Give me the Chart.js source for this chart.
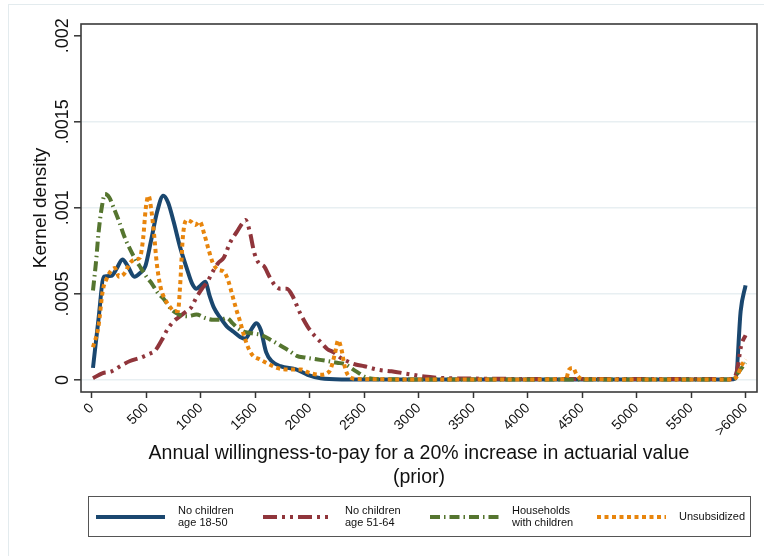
<!DOCTYPE html>
<html>
<head>
<meta charset="utf-8">
<script src="https://cdn.jsdelivr.net/npm/chart.js@4.4.1/dist/chart.umd.min.js"></script>
<style>
  html, body { margin: 0; padding: 0; background: #fff; }
  #wrap { position: relative; width: 764px; height: 559px; }
  #wrap canvas { position: absolute; left: 0; top: 0; }
  #frame { position: absolute; left: 8px; top: 4px; right: 0; bottom: 3px;
           border-top: 1px solid #e3ebee; border-left: 1px solid #e3ebee; pointer-events: none; }
</style>
</head>
<body>
<div id="wrap">
  <canvas id="wtpChart" width="764" height="559"></canvas>
  <div id="frame"></div>
</div>
<script>
// ---------------- Daten ----------------
const xTickValues = [0, 500, 1000, 1500, 2000, 2500, 3000, 3500, 4000, 4500, 5000, 5500, 6000];
const xTickLabels = ["0", "500", "1000", "1500", "2000", "2500", "3000", "3500", "4000", "4500", "5000", "5500", ">6000"];
const yTickValues = [0, 0.0005, 0.001, 0.0015, 0.002];
const yTickLabels = ["0", ".0005", ".001", ".0015", ".002"];

const seriesNames = ["No children age 18-50", "No children age 51-64", "Households with children", "Unsubsidized"];
const legendLabels = [["No children", "age 18-50"], ["No children", "age 51-64"], ["Households", "with children"], ["Unsubsidized"]];

// No children, age 18-50
const young = {
  x: [10, 60, 110, 180, 230, 280, 330, 390, 440, 490, 540, 600, 655, 700, 750, 810, 870, 920, 960, 1000,
      1040, 1080, 1120, 1180, 1240, 1300, 1360, 1410, 1460, 1510, 1550, 1600, 1650, 1730, 1880, 1980, 2100,
      2300, 3000, 4000, 5000, 5850, 5910, 5955, 6000],
  y: [0.00007, 0.00035, 0.0006, 0.000605, 0.00065, 0.0007, 0.00066, 0.0006, 0.00062, 0.00066, 0.0008, 0.00098,
      0.00107, 0.00103, 0.00092, 0.00077, 0.00065, 0.00056, 0.00053, 0.00055, 0.00057, 0.00049, 0.00042,
      0.00036, 0.00031, 0.00028, 0.00025, 0.00024, 0.00029, 0.00033, 0.00029, 0.00016, 0.00011, 0.00008,
      0.00006, 0.00003, 0.00001, 0.000003, 0.000002, 0.000002, 0.000002, 0.000002, 0.00001, 0.0004, 0.00055]
};

// No children, age 51-64
const older = {
  x: [10, 100, 180, 260, 350, 450, 520, 580, 640, 690, 750, 810, 870, 910, 960, 1010, 1060, 1110, 1160, 1210,
      1270, 1330, 1380, 1410, 1450, 1490, 1530, 1580, 1630, 1680, 1730, 1790, 1840, 1910, 1980, 2040, 2100,
      2160, 2220, 2280, 2340, 2420, 2500, 2620, 2750, 2900, 3050, 3200, 3500, 4000, 5000, 5880, 5920, 5960, 6000],
  y: [0.00001, 0.00004, 0.00005, 0.00008, 0.00011, 0.00013, 0.00015, 0.00017, 0.00023, 0.00029, 0.00034,
      0.00037, 0.0004, 0.00042, 0.00048, 0.00053, 0.00057, 0.00063, 0.00068, 0.00071, 0.0008, 0.00086,
      0.00091, 0.00093, 0.00086, 0.00074, 0.00068, 0.00066, 0.0006, 0.00055, 0.00053, 0.00053, 0.00049,
      0.00039, 0.00031, 0.00026, 0.00022, 0.00018, 0.00016, 0.00013, 0.00011, 0.00009, 0.00008, 0.00006,
      0.00005, 0.000035, 0.00002, 0.000012, 0.000008, 0.000006, 0.000006, 0.000006, 0.00005, 0.0002, 0.00026]
};

// Households with children
const families = {
  x: [10, 40, 60, 90, 120, 160, 200, 250, 300, 350, 400, 450, 500, 550, 600, 660, 730, 800, 880, 960, 1040,
      1110, 1180, 1240, 1290, 1340, 1400, 1480, 1560, 1650, 1730, 1810, 1880, 1960, 2060, 2160, 2250, 2330,
      2400, 2450, 2500, 2600, 3000, 4000, 5000, 5880, 5930, 6000],
  y: [0.00052, 0.0007, 0.00085, 0.001, 0.00108, 0.00106, 0.001, 0.00092, 0.00083, 0.00076, 0.0007, 0.00065,
      0.0006, 0.00056, 0.00051, 0.00047, 0.00041, 0.00038, 0.00037, 0.00038, 0.00036, 0.00035, 0.00035,
      0.00036, 0.00033, 0.0003, 0.00028, 0.00027, 0.00026, 0.00023, 0.0002, 0.00017, 0.00014, 0.00013,
      0.00012, 0.00011, 0.0001, 0.00009, 0.00006, 0.00004, 0.00002, 0.000005, 0.000003, 0.000003, 0.000003,
      0.000003, 0.00004, 0.0001]
};

// Unsubsidized
const unsubsidized = {
  x: [10, 60, 100, 130, 170, 210, 250, 300, 350, 400, 440, 470, 495, 520, 545, 570, 595, 630, 670, 710, 760,
      790, 810, 835, 870, 910, 950, 990, 1030, 1070, 1110, 1160, 1210, 1250, 1290, 1330, 1360, 1400, 1440,
      1480, 1540, 1600, 1700, 1800, 1920, 2000, 2100, 2180, 2230, 2260, 2290, 2320, 2360, 2450, 3000, 4000,
      4350, 4380, 4415, 4450, 4500, 5000, 5880, 5930, 5960, 6000],
  y: [0.00019, 0.00031, 0.00052, 0.00058, 0.00063, 0.00065, 0.0006, 0.00062, 0.00068, 0.0007, 0.00071,
      0.00082, 0.001, 0.00107, 0.00099, 0.00085, 0.00068, 0.00054, 0.00047, 0.00043, 0.0004, 0.0004, 0.00055,
      0.00083, 0.00093, 0.00092, 0.0009, 0.00092, 0.00085, 0.00076, 0.00068, 0.00064, 0.00063, 0.00058,
      0.00049, 0.0004, 0.00034, 0.00025, 0.00018, 0.00014, 0.00012, 0.0001, 0.00007, 0.00006, 0.00006,
      0.00004, 0.00003, 0.00005, 0.00015, 0.00023, 0.00018, 0.00008, 0.00002, 0.000005, 0.000003, 0.000003,
      0.000005, 0.00006, 0.00007, 0.00003, 0.000005, 0.000003, 0.000003, 0.00003, 0.00008, 0.00012]
};

const FONT = "'Liberation Sans', Arial, Helvetica, sans-serif";

function toPoints(s) {
  return s.x.map((x, i) => ({ x: x, y: s.y[i] }));
}

function lineSet(label, s, color, dash, order) {
  return {
    label: label,
    data: toPoints(s),
    borderColor: color,
    borderWidth: 4,
    borderDash: dash,
    borderCapStyle: "butt",
    borderJoinStyle: "round",
    cubicInterpolationMode: "monotone",
    pointRadius: 0,
    fill: false,
    order: order
  };
}

// ---------------- Rahmen + Legende ----------------
const plotFrame = {
  id: "plotFrame",
  afterDatasetsDraw(chart) {
    const { ctx, chartArea: a } = chart;
    ctx.save();
    ctx.strokeStyle = "#3a3a3a";
    ctx.lineWidth = 1.6;
    ctx.strokeRect(a.left, a.top, a.right - a.left, a.bottom - a.top);
    ctx.restore();
  }
};

const boxLegend = {
  id: "boxLegend",
  afterDraw(chart) {
    const ctx = chart.ctx;
    const midY = 517;
    ctx.save();
    ctx.strokeStyle = "#555";
    ctx.lineWidth = 1;
    ctx.strokeRect(88.5, 496.5, 662, 40);
    ctx.font = "11px " + FONT;
    ctx.textBaseline = "middle";
    ctx.textAlign = "left";
    chart.data.datasets.forEach((ds, i) => {
      const x0 = 96 + i * 167;
      ctx.strokeStyle = ds.borderColor;
      ctx.lineWidth = ds.borderWidth;
      ctx.lineCap = "butt";
      ctx.setLineDash(ds.borderDash);
      ctx.beginPath();
      ctx.moveTo(x0, midY);
      ctx.lineTo(x0 + 69, midY);
      ctx.stroke();
      ctx.setLineDash([]);
      ctx.fillStyle = "#111";
      const lines = legendLabels[i];
      lines.forEach((t, k) => {
        ctx.fillText(t, x0 + 82, midY + (k - (lines.length - 1) / 2) * 12.5);
      });
    });
    ctx.restore();
  }
};

// ---------------- Diagramm ----------------
new Chart(document.getElementById("wtpChart").getContext("2d"), {
  type: "line",
  data: {
    datasets: [
      lineSet(seriesNames[0], young, "#1a476f", [], 4),
      lineSet(seriesNames[1], older, "#90353b", [14, 5, 3, 5, 3, 5], 3),
      lineSet(seriesNames[2], families, "#55752f", [10, 4, 1.5, 4], 2),
      lineSet(seriesNames[3], unsubsidized, "#e8850c", [4, 3.5], 1)
    ]
  },
  options: {
    responsive: false,
    animation: false,
    devicePixelRatio: 1,
    layout: { padding: { left: 0, top: 24, right: 7, bottom: 70 } },
    plugins: {
      legend: { display: false },
      tooltip: { enabled: false }
    },
    scales: {
      x: {
        type: "linear",
        min: -100,
        max: 6105,
        afterBuildTicks: s => { s.ticks = xTickValues.map(v => ({ value: v })); },
        afterFit: s => { s.height = 97; },
        border: { display: false },
        grid: { drawOnChartArea: false, drawTicks: true, tickLength: 6, tickColor: "#333", tickWidth: 1.5 },
        ticks: {
          autoSkip: false,
          minRotation: 45,
          maxRotation: 45,
          padding: 2,
          color: "#111",
          font: { family: FONT, size: 14 },
          callback: (v, i) => xTickLabels[i]
        },
        title: {
          display: true,
          text: ["Annual willingness-to-pay for a 20% increase in actuarial value", "(prior)"],
          color: "#111",
          font: { family: FONT, size: 19.5, lineHeight: 1.2 },
          padding: { top: 0, bottom: 0 }
        }
      },
      y: {
        type: "linear",
        min: -0.00007,
        max: 0.002068,
        afterBuildTicks: s => { s.ticks = yTickValues.map(v => ({ value: v })); },
        afterFit: s => { s.width = 81; },
        border: { display: false },
        grid: {
          color: c => (c.tick && c.tick.value >= 0.002 ? "rgba(0,0,0,0)" : "#e8eff2"),
          lineWidth: 1.6,
          tickLength: 7,
          tickColor: "#333",
          tickWidth: 1.5
        },
        ticks: {
          minRotation: 90,
          maxRotation: 90,
          crossAlign: "center",
          padding: -12,
          color: "#111",
          font: { family: FONT, size: 18 },
          callback: (v, i) => yTickLabels[i]
        },
        title: {
          display: true,
          text: "Kernel density",
          color: "#111",
          font: { family: FONT, size: 19, lineHeight: 1.2 },
          padding: { top: 29, bottom: 0 }
        }
      }
    }
  },
  plugins: [plotFrame, boxLegend]
});
</script>
</body>
</html>
